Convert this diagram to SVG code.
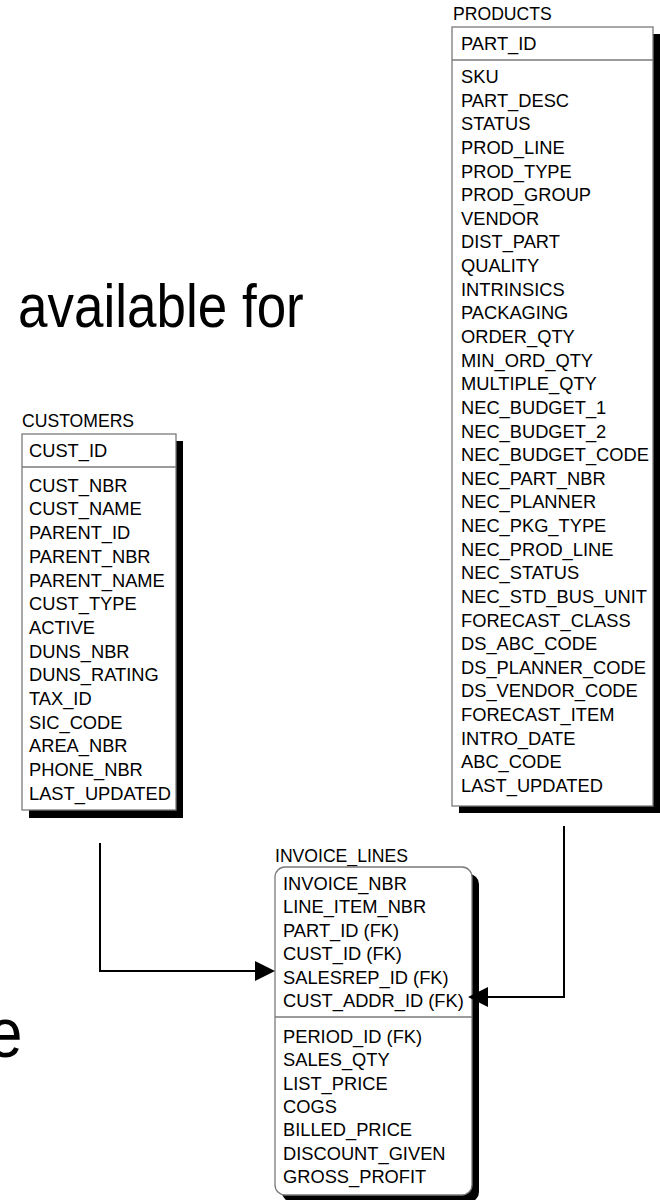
<svg xmlns="http://www.w3.org/2000/svg" width="660" height="1200" viewBox="0 0 660 1200">
<style>
text{font-family:"Liberation Sans",Arial,sans-serif;fill:#000}
.f{font-size:18.3px}
.lbl{font-size:17.6px}
.big{font-size:53px}
.box{fill:#fff;stroke:#7a7a7a;stroke-width:1.3}
.sh{fill:#000}
.div{stroke:#7a7a7a;stroke-width:1.3}
.con{fill:none;stroke:#000;stroke-width:2}
</style>
<rect width="660" height="1200" fill="#fff"/>
<text class="big" transform="translate(18,327) scale(1,1.15)">available for</text>
<text class="big" style="font-size:62px" transform="translate(-12,1057) scale(1,1.15)">e</text>

<g id="products">
<text class="lbl" x="453" y="20">PRODUCTS</text>
<rect class="sh" x="459" y="34" width="201" height="779"/>
<rect class="box" x="452" y="27" width="201" height="779"/>
<line class="div" x1="452" y1="60" x2="653" y2="60"/>
<text class="f" x="461" y="50">PART_ID</text>
<text class="f" x="461" y="83">SKU</text>
<text class="f" x="461" y="106.6">PART_DESC</text>
<text class="f" x="461" y="130.3">STATUS</text>
<text class="f" x="461" y="153.9">PROD_LINE</text>
<text class="f" x="461" y="177.5">PROD_TYPE</text>
<text class="f" x="461" y="201.2">PROD_GROUP</text>
<text class="f" x="461" y="224.8">VENDOR</text>
<text class="f" x="461" y="248.4">DIST_PART</text>
<text class="f" x="461" y="272">QUALITY</text>
<text class="f" x="461" y="295.7">INTRINSICS</text>
<text class="f" x="461" y="319.3">PACKAGING</text>
<text class="f" x="461" y="342.9">ORDER_QTY</text>
<text class="f" x="461" y="366.6">MIN_ORD_QTY</text>
<text class="f" x="461" y="390.2">MULTIPLE_QTY</text>
<text class="f" x="461" y="413.8">NEC_BUDGET_1</text>
<text class="f" x="461" y="437.5">NEC_BUDGET_2</text>
<text class="f" x="461" y="461.1">NEC_BUDGET_CODE</text>
<text class="f" x="461" y="484.7">NEC_PART_NBR</text>
<text class="f" x="461" y="508.3">NEC_PLANNER</text>
<text class="f" x="461" y="532">NEC_PKG_TYPE</text>
<text class="f" x="461" y="555.6">NEC_PROD_LINE</text>
<text class="f" x="461" y="579.2">NEC_STATUS</text>
<text class="f" x="461" y="602.9">NEC_STD_BUS_UNIT</text>
<text class="f" x="461" y="626.5">FORECAST_CLASS</text>
<text class="f" x="461" y="650.1">DS_ABC_CODE</text>
<text class="f" x="461" y="673.8">DS_PLANNER_CODE</text>
<text class="f" x="461" y="697.4">DS_VENDOR_CODE</text>
<text class="f" x="461" y="721">FORECAST_ITEM</text>
<text class="f" x="461" y="744.6">INTRO_DATE</text>
<text class="f" x="461" y="768.3">ABC_CODE</text>
<text class="f" x="461" y="792">LAST_UPDATED</text>
</g>

<g id="customers">
<text class="lbl" x="22" y="427">CUSTOMERS</text>
<rect class="sh" x="29" y="441" width="154" height="377"/>
<rect class="box" x="22" y="434" width="154" height="376"/>
<line class="div" x1="22" y1="467" x2="176" y2="467"/>
<text class="f" x="29" y="457">CUST_ID</text>
<text class="f" x="29" y="491.7">CUST_NBR</text>
<text class="f" x="29" y="515.4">CUST_NAME</text>
<text class="f" x="29" y="539.1">PARENT_ID</text>
<text class="f" x="29" y="562.8">PARENT_NBR</text>
<text class="f" x="29" y="586.5">PARENT_NAME</text>
<text class="f" x="29" y="610.2">CUST_TYPE</text>
<text class="f" x="29" y="633.9">ACTIVE</text>
<text class="f" x="29" y="657.6">DUNS_NBR</text>
<text class="f" x="29" y="681.3">DUNS_RATING</text>
<text class="f" x="29" y="705">TAX_ID</text>
<text class="f" x="29" y="728.7">SIC_CODE</text>
<text class="f" x="29" y="752.4">AREA_NBR</text>
<text class="f" x="29" y="776.1">PHONE_NBR</text>
<text class="f" x="29" y="799.8">LAST_UPDATED</text>
</g>

<g id="invoice_lines">
<text class="lbl" x="275" y="862">INVOICE_LINES</text>
<rect class="sh" x="282" y="874" width="197" height="328" rx="10"/>
<rect class="box" x="275" y="867" width="197" height="328" rx="10"/>
<line class="div" x1="275" y1="1017" x2="472" y2="1017"/>
<text class="f" x="283" y="890">INVOICE_NBR</text>
<text class="f" x="283" y="913.4">LINE_ITEM_NBR</text>
<text class="f" x="283" y="936.8">PART_ID (FK)</text>
<text class="f" x="283" y="960.2">CUST_ID (FK)</text>
<text class="f" x="283" y="983.6">SALESREP_ID (FK)</text>
<text class="f" x="283" y="1007">CUST_ADDR_ID (FK)</text>
<text class="f" x="283" y="1043">PERIOD_ID (FK)</text>
<text class="f" x="283" y="1066.3">SALES_QTY</text>
<text class="f" x="283" y="1089.7">LIST_PRICE</text>
<text class="f" x="283" y="1113">COGS</text>
<text class="f" x="283" y="1136.3">BILLED_PRICE</text>
<text class="f" x="283" y="1159.7">DISCOUNT_GIVEN</text>
<text class="f" x="283" y="1183">GROSS_PROFIT</text>
</g>

<g id="connectors">
<polyline class="con" points="100,843 100,971 258,971"/>
<polygon points="255,961 275,971 255,981" fill="#000"/>
<polyline class="con" points="564,826 564,997 485,997"/>
<polygon points="488,987 468,997 488,1007" fill="#000"/>
</g>
</svg>
